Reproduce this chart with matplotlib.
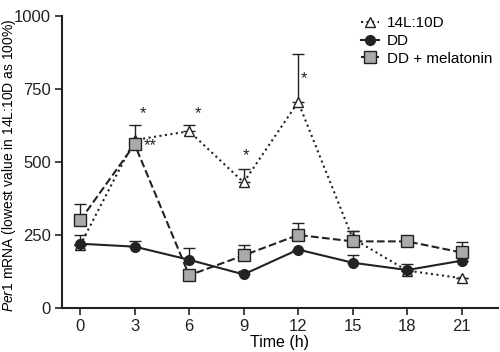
import matplotlib
matplotlib.use("Agg")
import matplotlib.pyplot as plt
from matplotlib.lines import Line2D
import numpy as np

plt.rcParams['font.family'] = ['Liberation Sans', 'DejaVu Sans']
plt.rcParams['mathtext.fontset'] = 'custom'
plt.rcParams['mathtext.it'] = 'Liberation Sans:italic'
plt.rcParams['mathtext.rm'] = 'Liberation Sans'

time = [0, 3, 6, 9, 12, 15, 18, 21]
ld_mean = [215, 575, 605, 430, 705, 238, 128, 102]
ld_err = [0, 0, 20, 45, 165, 25, 0, 0]
dd_mean = [220, 210, 165, 115, 200, 155, 130, 162]
dd_err = [30, 18, 40, 10, 0, 25, 22, 0]
mel_mean = [300, 560, 112, 180, 250, 228, 228, 190]
mel_err = [55, 65, 0, 35, 40, 35, 0, 35]

star_x = [3.45, 3.85, 6.5, 9.15, 12.3]
star_y = [665, 555, 665, 520, 785]
star_txt = ['*', '**', '*', '*', '*']

fig = plt.figure(figsize=(5, 3.52), dpi=100)
ax = fig.add_axes([0.124, 0.125, 0.872, 0.83])

c = '#222222'
z = np.zeros(len(time))
ld_style = dict(color=c, ls=':', lw=1.5, marker='^', ms=7, mfc='white', mec=c, mew=1.0)
dd_style = dict(color=c, ls='-', lw=1.5, marker='o', ms=7, mfc=c, mec=c)
mel_style = dict(color=c, ls='--', lw=1.5, marker='s', ms=8, mfc='#aaaaaa', mec=c, mew=1.0)

ax.errorbar(time, ld_mean, yerr=[z, ld_err], capsize=4, elinewidth=1,
            capthick=1, zorder=3, **ld_style)
ax.errorbar(time, dd_mean, yerr=[z, dd_err], capsize=4, elinewidth=1,
            capthick=1, zorder=4, **dd_style)
ax.errorbar(time, mel_mean, yerr=[z, mel_err], capsize=4, elinewidth=1,
            capthick=1, zorder=5, **mel_style)

for x, y, t in zip(star_x, star_y, star_txt):
    ax.text(x, y, t, ha='center', va='center', fontsize=12, color=c)

ax.set_xlim(-1, 23)
ax.set_ylim(0, 1000)
ax.set_xticks(time)
ax.set_yticks([0, 250, 500, 750, 1000])
ax.spines['top'].set_visible(False)
ax.spines['right'].set_visible(False)
for s in ['left', 'bottom']:
    ax.spines[s].set_linewidth(1.5)
    ax.spines[s].set_color(c)
ax.tick_params(labelsize=12, width=1.2, length=5, colors=c, pad=3)
ax.set_xlabel('Time (h)', fontsize=11.5, labelpad=1)
ax.set_ylabel(r'$\it{Per1}$ mRNA (lowest value in 14L:10D as 100%)', fontsize=10)
ax.yaxis.set_label_coords(-0.1, 0.49)

handles = [Line2D([], [], **ld_style), Line2D([], [], **dd_style), Line2D([], [], **mel_style)]
labels = ['14L:10D', 'DD', 'DD + melatonin']
ax.legend(handles, labels, loc='upper right', frameon=False, fontsize=11, handlelength=1.2,
          handletextpad=0.5, labelspacing=0.25, borderaxespad=0.0,
          bbox_to_anchor=(1.0, 1.02))

fig.savefig('out.png', dpi=100)
